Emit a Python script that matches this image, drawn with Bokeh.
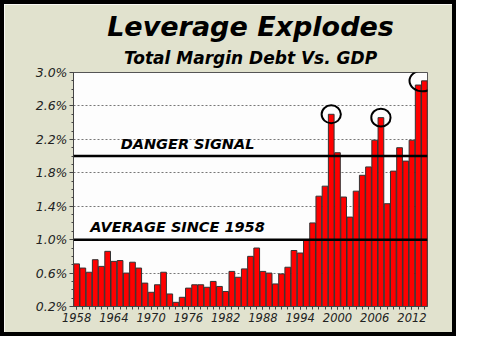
import numpy as np
from bokeh.plotting import figure
from bokeh.models import FixedTicker, PrintfTickFormatter, Span, Label, ColumnDataSource, Range1d, Title
from bokeh.embed import file_html
from bokeh.resources import INLINE

# ---- data ----
years = list(range(1958, 2015))
margin_pct = [0.71, 0.66, 0.61, 0.76, 0.68, 0.86, 0.74, 0.75, 0.60, 0.73,
              0.66, 0.48, 0.37, 0.46, 0.61, 0.35, 0.25, 0.31, 0.42, 0.46,
              0.46, 0.43, 0.50, 0.44, 0.38, 0.62, 0.55, 0.65, 0.80, 0.90,
              0.62, 0.60, 0.47, 0.59, 0.67, 0.87, 0.84, 0.99, 1.20, 1.52,
              1.64, 2.50, 2.04, 1.51, 1.27, 1.58, 1.77, 1.87, 2.19, 2.46,
              1.43, 1.82, 2.10, 1.94, 2.19, 2.85, 2.90]
y_ticks = [0.2, 0.6, 1.0, 1.4, 1.8, 2.2, 2.6, 3.0]
y_minor = [round(0.2 + 0.1 * i, 1) for i in range(29)]
x_label_years = [1958, 1964, 1970, 1976, 1982, 1988, 1994, 2000, 2006, 2012]
danger_level = 2.0
average_level = 1.0
peak_years = [1999, 2007]
recent_years = [2013, 2014]

FONT = "DejaVu Sans"
W, H = 456, 336

p = figure(width=W, height=H, output_backend="svg", toolbar_location=None,
           x_range=Range1d(years[0] - 0.5, years[-1] + 0.5),
           y_range=Range1d(0.2, 3.0),
           min_border_left=69, min_border_right=33,
           min_border_top=68, min_border_bottom=34)
p.styles = {"border": "4px solid black"}
p.border_fill_color = "#E1E2CE"
p.background_fill_color = "#FDFDFD"
p.outline_line_color = "#555555"
p.outline_line_width = 1

# titles (later-added sits further from the plot)
p.add_layout(Title(text="Total Margin Debt Vs. GDP", align="center",
                   text_font=FONT, text_font_style="bold italic", text_font_size="17px",
                   text_color="black", standoff=9), "above")
p.add_layout(Title(text="Leverage Explodes", align="center",
                   text_font=FONT, text_font_style="bold italic", text_font_size="27px",
                   text_color="black", standoff=0), "above")

# grid
p.xgrid.visible = False
p.ygrid.grid_line_color = "#777777"
p.ygrid.grid_line_dash = "2 2"
p.ygrid.grid_line_width = 1

# y axis
p.yaxis.ticker = FixedTicker(ticks=y_ticks, minor_ticks=y_minor)
p.yaxis.formatter = PrintfTickFormatter(format="%.1f%%")
p.yaxis.major_label_text_font = FONT
p.yaxis.major_label_text_font_style = "italic"
p.yaxis.major_label_text_font_size = "12.5px"
p.yaxis.major_label_text_color = "#222222"
p.yaxis.major_tick_out = 4
p.yaxis.major_tick_in = 0
p.yaxis.minor_tick_out = 2
p.yaxis.minor_tick_in = 0
p.yaxis.major_label_standoff = 2
p.yaxis.axis_line_color = "#444444"
p.yaxis.major_tick_line_color = "#444444"
p.yaxis.minor_tick_line_color = "#444444"

# x axis
p.xaxis.ticker = FixedTicker(ticks=x_label_years, minor_ticks=years)
p.xaxis.major_label_text_font = FONT
p.xaxis.major_label_text_font_style = "italic"
p.xaxis.major_label_text_font_size = "11.5px"
p.xaxis.major_label_text_color = "#222222"
p.xaxis.major_tick_out = 3
p.xaxis.major_tick_in = 0
p.xaxis.minor_tick_out = 3
p.xaxis.minor_tick_in = 0
p.xaxis.major_label_standoff = 3
p.xaxis.axis_line_color = "#444444"
p.xaxis.major_tick_line_color = "#444444"
p.xaxis.minor_tick_line_color = "#444444"

# bars
src = ColumnDataSource(dict(x=years, top=margin_pct))
p.vbar(x="x", top="top", bottom=0.2, width=0.92, source=src,
       fill_color="#FF0000", line_color="#333333", line_width=1)

# reference lines
for lvl in (danger_level, average_level):
    p.add_layout(Span(location=lvl, dimension="width", line_color="black", line_width=2.5))

p.add_layout(Label(x=1965.1, y=danger_level + 0.15, text="DANGER SIGNAL",
                   text_font=FONT, text_font_style="bold italic", text_font_size="14.5px",
                   text_color="black", text_baseline="alphabetic"))
p.add_layout(Label(x=1960.2, y=average_level + 0.15, text="AVERAGE SINCE 1958",
                   text_font=FONT, text_font_style="bold italic", text_font_size="14.5px",
                   text_color="black", text_baseline="alphabetic"))

# circles around peaks
val = dict(zip(years, margin_pct))
cx = peak_years + [float(np.mean(recent_years)) + 0.2]
cy = [val[y] for y in peak_years] + [max(val[y] for y in recent_years)]
cw = [3.1, 3.1, 4.2]
ch = [0.215, 0.215, 0.25]
p.ellipse(x=cx, y=cy, width=cw, height=ch, fill_color=None, line_color="black", line_width=2)

open("out.html", "w").write(file_html(p, INLINE))
